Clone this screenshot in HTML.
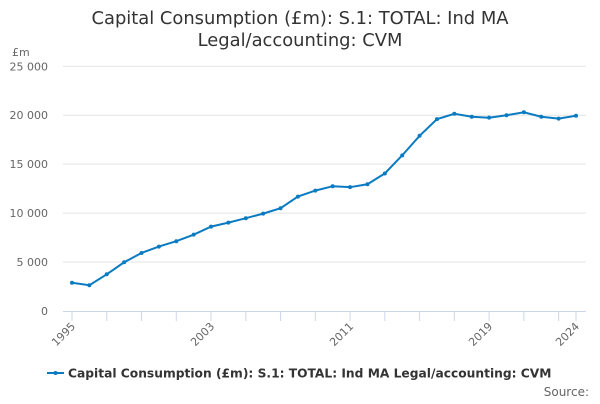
<!DOCTYPE html>
<html><head><meta charset="utf-8"><style>
body{margin:0;background:#fff;font-family:"DejaVu Sans","Liberation Sans",sans-serif;}
svg text{font-family:"DejaVu Sans","Liberation Sans",sans-serif;}
</style></head><body>
<svg id="chart" width="600" height="400">
<text x="300" y="24" text-anchor="middle" font-size="17.9" fill="#333"><tspan x="300">Capital Consumption (£m): S.1: TOTAL: Ind MA</tspan><tspan x="300" dy="22">Legal/accounting: CVM</tspan></text>
<text x="12" y="56" font-size="11" fill="#666">£m</text>
<g id="grid"></g><g id="xaxis"></g><g id="series"></g>
<g>
<line x1="47" y1="373" x2="64" y2="373" stroke="#0a7bc1" stroke-width="2"/>
<circle cx="55.5" cy="373" r="2" fill="#0a7bc1"/>
<text x="68" y="377.5" font-size="12.25" font-weight="bold" fill="#333">Capital Consumption (£m): S.1: TOTAL: Ind MA Legal/accounting: CVM</text>
</g>
<text x="589" y="396" text-anchor="end" font-size="12" fill="#666">Source:</text>
</svg>
<script>
const years=[1995,1996,1997,1998,1999,2000,2001,2002,2003,2004,2005,2006,2007,2008,2009,2010,2011,2012,2013,2014,2015,2016,2017,2018,2019,2020,2021,2022,2023,2024];
const values=[2890,2630,3750,4980,5930,6580,7130,7800,8620,9030,9480,9950,10500,11690,12300,12750,12650,12950,14050,15900,17900,19600,20150,19850,19750,20000,20300,19850,19650,19950];
const yTicks=[0,5000,10000,15000,20000,25000];
const xLabels=[1995,2003,2011,2019,2024];
const NS="http://www.w3.org/2000/svg";
const x=y=>72+(y-1995)*(576-72)/29;
const yS=v=>311-v*(311-66.3)/25000;
function mk(t,a,p){const e=document.createElementNS(NS,t);for(const k in a)e.setAttribute(k,a[k]);p.appendChild(e);return e;}
const g=document.getElementById('grid');
yTicks.forEach(v=>{
 if(v>0){const l=mk('line',{x1:63,x2:586,y1:yS(v),y2:yS(v),stroke:'#e3e3e3','stroke-width':1},g);
 
 }
 const t=mk('text',{x:48,y:yS(v)+4,'text-anchor':'end','font-size':11,fill:'#666'},g);
 
 
 t.textContent=v===0?'0':(v/1000)+' 000';
});
const xa=document.getElementById('xaxis');
const ax=mk('line',{x1:63,x2:586,y1:311.5,y2:311.5,stroke:'#ccd6eb','stroke-width':1},xa);


for(let yr=1995;yr<=2024;yr+=2){const tk=mk('line',{x1:x(yr),x2:x(yr),y1:311,y2:321,stroke:'#ccd6eb'},xa);
 
 }
const t24=mk('line',{x1:x(2024),x2:x(2024),y1:311,y2:321,stroke:'#ccd6eb'},xa);


xLabels.forEach(yr=>{const t=mk('text',{x:x(yr)+4,y:327,'text-anchor':'end','font-size':11,fill:'#666',transform:`rotate(-45 ${x(yr)+4} 327)`},xa);
 
 
 t.textContent=yr;});
const s=document.getElementById('series');
const path=mk('polyline',{points:years.map((yr,i)=>x(yr)+','+yS(values[i])).join(' '),fill:'none',stroke:'#0a7bc1','stroke-width':2},s);


years.forEach((yr,i)=>{const c=mk('circle',{cx:x(yr),cy:yS(values[i]),r:2,fill:'#0a7bc1'},s);
 
 });
</script>
</body></html>
